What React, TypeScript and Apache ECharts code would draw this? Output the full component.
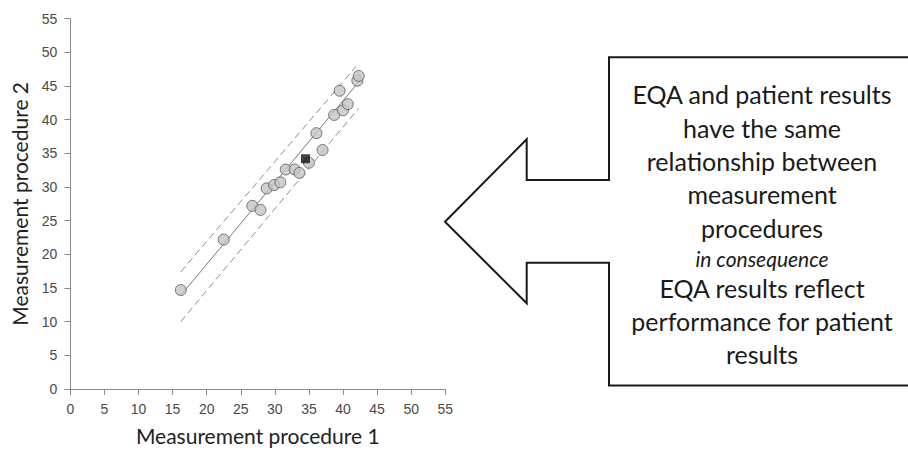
import React, { useEffect, useRef } from "react";
import * as echarts from "echarts";

const patientResults: number[][] = [
  [16.2, 14.7],
  [22.5, 22.2],
  [26.7, 27.2],
  [27.9, 26.6],
  [28.8, 29.8],
  [29.9, 30.3],
  [30.8, 30.7],
  [31.6, 32.6],
  [32.9, 32.6],
  [33.6, 32.1],
  [35.0, 33.6],
  [36.1, 38.0],
  [37.0, 35.5],
  [38.7, 40.7],
  [39.5, 44.3],
  [40.0, 41.4],
  [40.7, 42.3],
  [42.1, 45.8],
  [42.3, 46.5],
];
const eqaResult: number[][] = [[34.5, 34.2]];
const fitLine: number[][] = [
  [16.2, 13.9],
  [42.3, 45.6],
];
const upperLimit: number[][] = [
  [16.2, 17.4],
  [41.9, 47.9],
];
const lowerLimit: number[][] = [
  [16.2, 10.0],
  [42.3, 41.7],
];
const xTitle = "Measurement procedure 1";
const yTitle = "Measurement procedure 2";
const boxLines = [
  "EQA and patient results",
  "have the same",
  "relationship between",
  "measurement",
  "procedures",
  "in consequence",
  "EQA results reflect",
  "performance for patient",
  "results",
];
const lineY = [94, 128, 161, 194, 228, 258, 288, 321, 354];

export default function App() {
  const ref = useRef<HTMLDivElement>(null);
  useEffect(() => {
    if (!ref.current) return;
    const chart = echarts.init(ref.current, null, { renderer: "svg" });
    const axisCommon = {
      type: "value" as const,
      min: 0,
      max: 55,
      interval: 5,
      splitLine: { show: false },
      axisLine: { show: true, lineStyle: { color: "#8a8a8a", width: 1 } },
      axisTick: { show: true, length: 6, lineStyle: { color: "#8a8a8a" } },
      axisLabel: {
        color: "#4a4a4a",
        fontSize: 14,
        fontFamily: "Liberation Sans, Arial, sans-serif",
      },
      nameLocation: "middle" as const,
      nameTextStyle: {
        color: "#222",
        fontSize: 21,
        fontFamily: "Lato, sans-serif",
      },
    };
    const textEls = boxLines.map((t, i) => {
      const italic = t === "in consequence";
      return {
        type: "text",
        x: 762,
        y: lineY[i],
        style: {
          text: t,
          fill: "#1a1a1a",
          fontSize: italic ? 21 : 25,
          fontStyle: italic ? "italic" : "normal",
          fontFamily: "Lato, sans-serif",
          textAlign: "center",
          textVerticalAlign: "middle",
        },
        z: 10,
      };
    });
    chart.setOption({
      animation: false,
      backgroundColor: "#fff",
      grid: { left: 70.3, right: 462.7, top: 18.7, bottom: 57.3, containLabel: false },
      xAxis: {
        ...axisCommon,
        name: xTitle,
        nameGap: 36,
        axisLabel: { ...axisCommon.axisLabel, margin: 13 },
      },
      yAxis: {
        ...axisCommon,
        name: yTitle,
        nameGap: 40,
        axisLabel: { ...axisCommon.axisLabel, margin: 13 },
      },
      series: [
        {
          type: "line",
          data: upperLimit,
          symbol: "none",
          lineStyle: { color: "#8c8c8c", width: 1, type: [7, 4] },
          z: 1,
        },
        {
          type: "line",
          data: lowerLimit,
          symbol: "none",
          lineStyle: { color: "#8c8c8c", width: 1, type: [7, 4] },
          z: 1,
        },
        {
          type: "line",
          data: fitLine,
          symbol: "none",
          lineStyle: { color: "#777", width: 1 },
          z: 1,
        },
        {
          type: "scatter",
          data: patientResults,
          symbol: "circle",
          symbolSize: 11,
          itemStyle: { color: "#c4c4c4", borderColor: "#5a5a5a", borderWidth: 1 },
          z: 3,
        },
        {
          type: "scatter",
          data: eqaResult,
          symbol: "rect",
          symbolSize: 9,
          itemStyle: { color: "#111" },
          z: 4,
        },
      ],
      graphic: [
        {
          type: "polygon",
          shape: {
            points: [
              [445, 221.7],
              [526.7, 139.3],
              [526.7, 180],
              [609, 180],
              [609, 57.3],
              [912, 57.3],
              [912, 385.5],
              [609, 385.5],
              [609, 262.7],
              [526.7, 262.7],
              [526.7, 303.3],
            ],
          },
          style: { fill: "#fff", stroke: "#1a1a1a", lineWidth: 2 },
          z: 5,
        },
        ...textEls,
      ],
    });
    return () => chart.dispose();
  }, []);
  return <div ref={ref} style={{ width: 908, height: 451, position: "absolute", left: 0, top: 0 }} />;
}
